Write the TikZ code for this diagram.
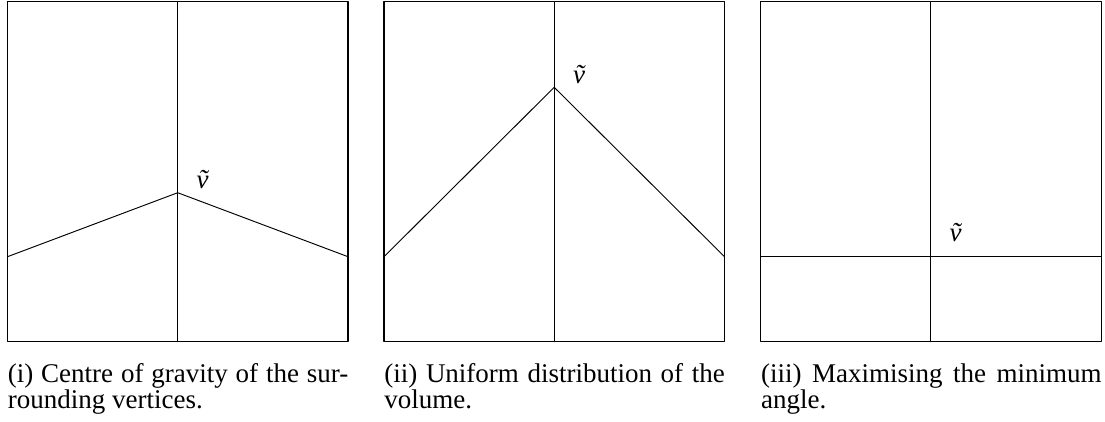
\documentclass[tikz,border=0pt]{standalone}
\usepackage{fontspec}
\setmainfont{Liberation Serif}
\usetikzlibrary{positioning}
\tikzset{
  mesh diagram/.style={x=0.476pt, y=-0.476pt, line cap=round, line join=round},
  mesh frame/.style={draw, line width=0.5pt},
  mesh edge/.style={draw, line width=0.45pt},
  mesh label/.style={inner sep=0pt, font=\fontsize{12.85pt}{12.4pt}\selectfont\itshape},
  mesh caption/.style={anchor=base west, inner sep=0pt, text width=162pt,
    align=justify, font=\fontsize{12.85pt}{12.4pt}\selectfont}
}
\begin{document}
\begin{tikzpicture}[mesh diagram]
\useasboundingbox (0,0) rectangle (1105,421);
% three placements of the free vertex
\foreach \px/\vy/\ly/\capt [count=\i] in {
  7.5/192.7/180/{(i) Centre of gravity of the sur-\linebreak rounding vertices.},
  384/87.3/75/{(ii) Uniform distribution of the\linebreak volume.},
  760.7/256.7/233/{(iii) Maximising the minimum\linebreak angle.}}{
\begin{scope}[shift={(\px,0)}]
  \draw[mesh frame] (0,1.7) rectangle (340.5,341.7);
  \coordinate (top\i) at (170.2,1.7);
  \coordinate (bot\i) at (170.2,341.7);
  \coordinate (v\i) at (170.2,\vy);
  \coordinate (l\i) at (0,256.7);
  \coordinate (r\i) at (340.5,256.7);
  \draw[mesh edge] (top\i) -- (bot\i);
  \draw[mesh edge] (l\i) -- (v\i) -- (r\i);
  \node[mesh label] (lab\i) at (195,\ly) {\~{v}};
  \node[mesh caption] (cap\i) at (0,382) {\capt};
\end{scope}
}
\end{tikzpicture}
\end{document}
